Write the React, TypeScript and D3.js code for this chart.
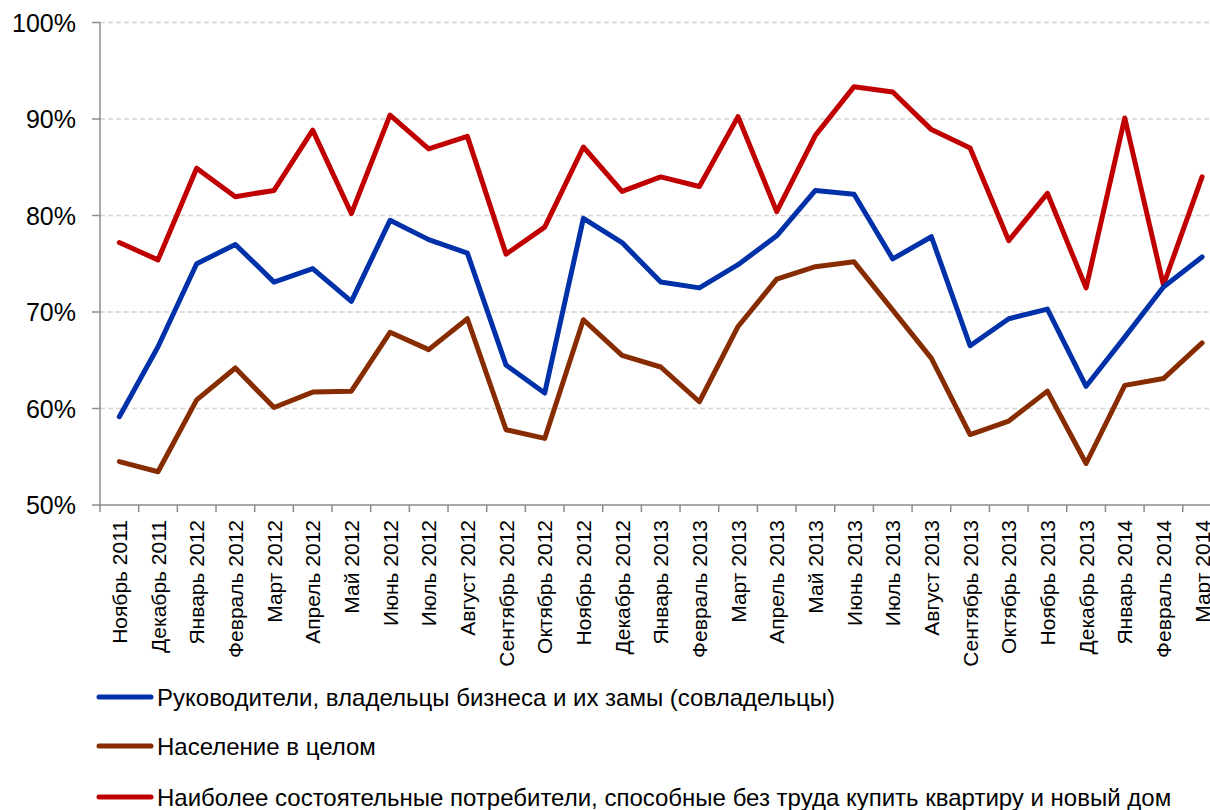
import React from "react";
import * as d3 from "d3";

const months = [
  "Ноябрь 2011", "Декабрь 2011", "Январь 2012", "Февраль 2012", "Март 2012", "Апрель 2012",
  "Май 2012", "Июнь 2012", "Июль 2012", "Август 2012", "Сентябрь 2012", "Октябрь 2012",
  "Ноябрь 2012", "Декабрь 2012", "Январь 2013", "Февраль 2013", "Март 2013", "Апрель 2013",
  "Май 2013", "Июнь 2013", "Июль 2013", "Август 2013", "Сентябрь 2013", "Октябрь 2013",
  "Ноябрь 2013", "Декабрь 2013", "Январь 2014", "Февраль 2014", "Март 2014",
];

const managers = [
  59.15, 66.4, 75.0, 77.0, 73.1, 74.5, 71.1, 79.5, 77.5, 76.1, 64.5, 61.6,
  79.7, 77.2, 73.1, 72.5, 74.9, 77.9, 82.6, 82.2, 75.5, 77.8, 66.5, 69.3,
  70.3, 62.3, 67.4, 72.6, 75.7,
];

const population = [
  54.5, 53.45, 60.9, 64.2, 60.1, 61.7, 61.8, 67.9, 66.1, 69.3, 57.8, 56.9,
  69.2, 65.5, 64.3, 60.7, 68.5, 73.4, 74.7, 75.2, 70.2, 65.2, 57.3, 58.7,
  61.8, 54.3, 62.4, 63.1, 66.8,
];

const wealthy = [
  77.2, 75.4, 84.9, 81.95, 82.6, 88.85, 80.2, 90.4, 86.9, 88.2, 76.0, 78.8,
  87.1, 82.5, 84.0, 83.0, 90.25, 80.4, 88.3, 93.35, 92.8, 88.9, 87.0, 77.4,
  82.3, 72.5, 90.1, 72.8, 84.0,
];

const yTicks = [50, 60, 70, 80, 90, 100];

const seriesNames = [
  "Руководители, владельцы бизнеса и их замы (совладельцы)",
  "Население в целом",
  "Наиболее состоятельные потребители, способные без труда купить квартиру и новый дом",
];
const seriesColors = ["#0031a8", "#872c00", "#c00000"];

export default function App() {
  const width = 1210;
  const height = 810;
  const left = 100;
  const bandW = 38.67;
  const right = left + bandW * months.length;
  const top = 22.5;
  const bottom = 505;

  const x = d3
    .scaleBand<string>()
    .domain(months)
    .range([left, right])
    .paddingInner(0)
    .paddingOuter(0);
  const y = d3.scaleLinear().domain([50, 100]).range([bottom, top]);

  const line = d3
    .line<number>()
    .x((_, i) => (x(months[i]) as number) + x.bandwidth() / 2)
    .y((d) => y(d));

  const series = [managers, population, wealthy];
  const drawOrder = [2, 0, 1];
  const font = "Arial, 'Liberation Sans', sans-serif";
  const legendY = [697, 746, 797];

  return (
    <svg
      width={width}
      height={height}
      style={{ position: "absolute", left: 0, top: 0, background: "#fff" }}
      fontFamily={font}
    >
      {/* gridlines */}
      {yTicks
        .filter((t) => t !== 50)
        .map((t) => (
          <line
            key={"g" + t}
            x1={left}
            x2={width}
            y1={y(t)}
            y2={y(t)}
            stroke="#d4d4d4"
            strokeWidth={1.3}
            strokeDasharray="5,3"
          />
        ))}
      {/* y axis */}
      <line x1={left} x2={left} y1={top} y2={bottom + 7} stroke="#8c8c8c" strokeWidth={1.5} />
      {yTicks.map((t) => (
        <g key={"yt" + t}>
          <line x1={left - 8} x2={left} y1={y(t)} y2={y(t)} stroke="#8c8c8c" strokeWidth={1.5} />
          <text
            x={76}
            y={y(t)}
            dy="0.36em"
            textAnchor="end"
            fontSize={25}
            fill="#000"
          >
            {t}%
          </text>
        </g>
      ))}
      {/* x axis */}
      <line x1={left} x2={width} y1={bottom} y2={bottom} stroke="#8c8c8c" strokeWidth={1.5} />
      {months.map((m, i) => (
        <line
          key={"xt" + i}
          x1={(x(m) as number) + x.bandwidth()}
          x2={(x(m) as number) + x.bandwidth()}
          y1={bottom}
          y2={bottom + 7}
          stroke="#8c8c8c"
          strokeWidth={1.5}
        />
      ))}
      {months.map((m) => {
        const cx = (x(m) as number) + x.bandwidth() / 2;
        const ty = 520;
        return (
          <text
            key={"xl" + m}
            transform={`translate(${cx},${ty}) rotate(-90)`}
            dy="0.36em"
            textAnchor="end"
            fontSize={21}
            fill="#000"
          >
            {m}
          </text>
        );
      })}
      {/* lines */}
      {drawOrder.map((si) => (
        <path
          key={"s" + si}
          d={line(series[si]) || ""}
          fill="none"
          stroke={seriesColors[si]}
          strokeWidth={5}
          strokeLinejoin="round"
          strokeLinecap="round"
        />
      ))}
      {/* legend */}
      {seriesNames.map((n, i) => (
        <g key={"lg" + i}>
          <line
            x1={99}
            x2={151}
            y1={legendY[i]}
            y2={legendY[i]}
            stroke={seriesColors[i]}
            strokeWidth={5}
            strokeLinecap="round"
          />
          <text x={157} y={legendY[i]} dy="0.36em" fontSize={24} fill="#000">
            {n}
          </text>
        </g>
      ))}
    </svg>
  );
}
